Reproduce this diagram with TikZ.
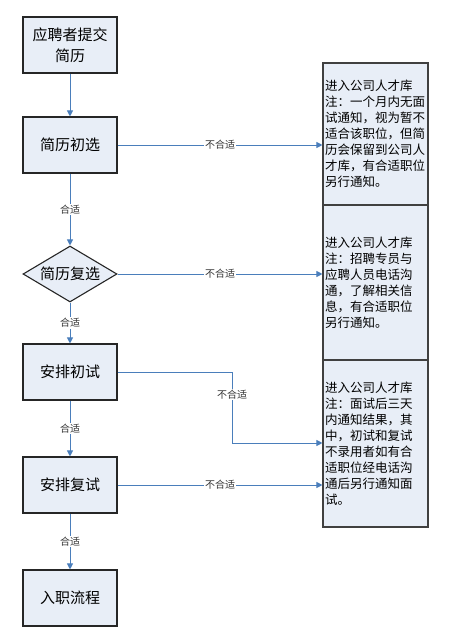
\documentclass[tikz,border=0pt]{standalone}
\usepackage{fontspec}
\newfontfamily\cjk{Noto Sans CJK SC}
\usetikzlibrary{arrows.meta}
\usetikzlibrary{shapes.geometric}
\definecolor{flowblue}{HTML}{4A7EBB}
\definecolor{boxfill}{HTML}{E8EEF7}
\tikzset{
  stepbox/.style={draw=black!85, line width=1.1pt, fill=boxfill, minimum width=94pt, minimum height=56pt, align=center, font=\cjk\fontsize{15}{21}\selectfont},
  checkbox/.style={diamond, draw=black!85, line width=1.1pt, fill=boxfill, inner sep=0pt, aspect=1.68, minimum width=94pt, minimum height=56pt, font=\cjk\fontsize{15}{21}\selectfont},
  notebox/.style={draw=black!75, line width=1.1pt, fill=boxfill, text width=101pt, inner sep=2pt, align=left, font=\cjk\fontsize{12.5}{16}\selectfont},
  flow/.style={draw=flowblue, line width=1pt, ->},
  tag/.style={fill=white, inner sep=1pt, text=black!80, font=\cjk\fontsize{10}{12}\selectfont},
}

\begin{document}
\begin{tikzpicture}[x=1pt,y=-1pt,>={Triangle[length=6pt,width=6pt]}]
    \useasboundingbox (0,0) rectangle (460,632);

    % main flow
    \node[stepbox] (submit) at (70,45) {应聘者提交\\简历};
    \node[stepbox] (screen) at (70,145) {简历初选};
    \node[checkbox] (recheck) at (70,274) {简历复选};
    \node[stepbox] (first) at (70,372) {安排初试};
    \node[stepbox] (second) at (70,485) {安排复试};
    \node[stepbox] (hire) at (70,598) {入职流程};

    % talent pool notes
    \node[notebox, minimum height=142pt] (poolA) at (375.5,134) {进入公司人才库\\注：一个月内无面\\试通知，视为暂不\\适合该职位，但简\\历会保留到公司人\\才库，有合适职位\\另行通知。};
    \node[notebox, minimum height=155pt] (poolB) at (375.5,282.5) {进入公司人才库\\注：招聘专员与\\应聘人员电话沟\\通，了解相关信\\息，有合适职位\\另行通知。};
    \node[notebox, minimum height=167pt] (poolC) at (375.5,443.5) {进入公司人才库\\注：面试后三天\\内通知结果，其\\中，初试和复试\\不录用者如有合\\适职位经电话沟\\通后另行通知面\\试。};

    \coordinate (bend) at (232,443);

    \draw[flow] (submit) -- (screen);
    \draw[flow] (screen) -- (recheck) node[midway, tag] {合适};
    \draw[flow] (recheck) -- (first) node[midway, tag] {合适};
    \draw[flow] (first) -- (second) node[midway, tag] {合适};
    \draw[flow] (second) -- (hire) node[midway, tag] {合适};

    \draw[flow] (screen.east) -- (poolA.west |- screen.east) node[midway, tag] {不合适};
    \draw[flow] (recheck.east) -- (poolB.west |- recheck.east) node[midway, tag] {不合适};
    \draw[flow] (first.east) -| (bend) node[pos=0.66, tag] {不合适} -- (poolC.west |- bend);
    \draw[flow] (second.east) -- (poolC.west |- second.east) node[midway, tag] {不合适};
\end{tikzpicture}
\end{document}
